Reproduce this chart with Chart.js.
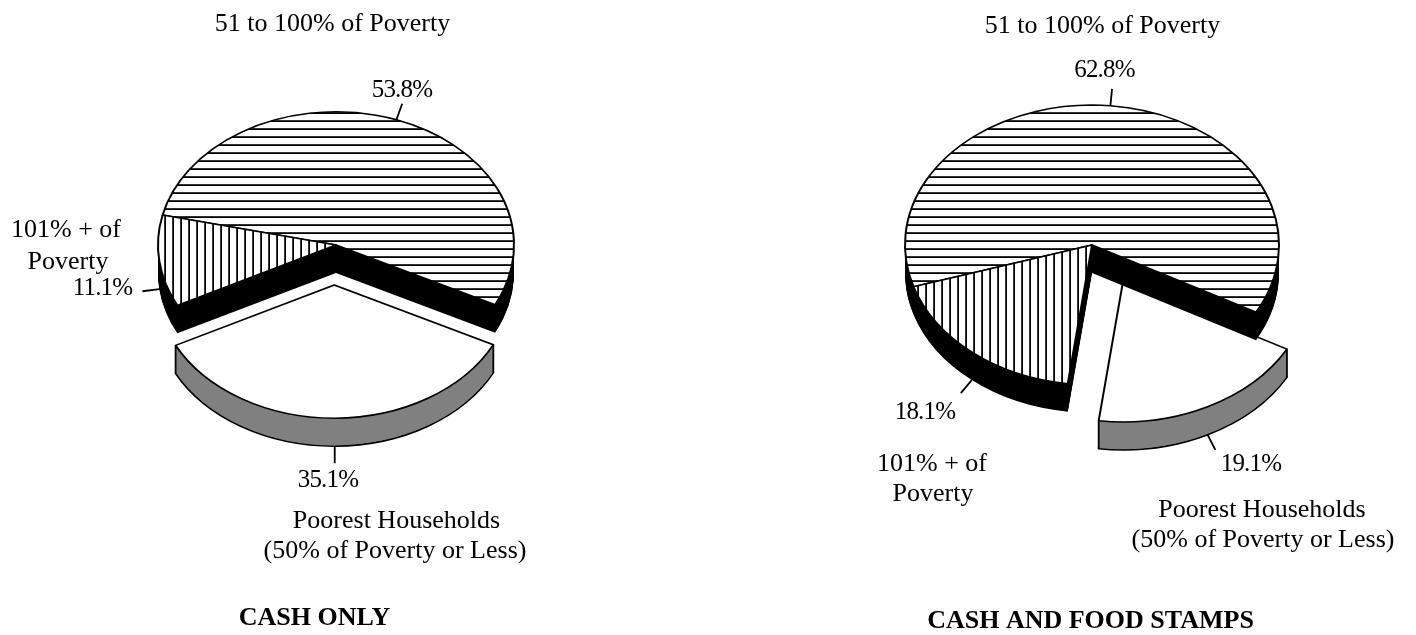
<!DOCTYPE html>
<html>
<head>
<meta charset="utf-8">
<title>Poverty pies</title>
<script src="https://cdn.jsdelivr.net/npm/chart.js@4"></script>
<style>
  html, body { margin: 0; padding: 0; background: #fff; }
  canvas { position: absolute; top: 0; }
  #cashOnly { left: 0; }
  #cashFood { left: 768px; }
</style>
</head>
<body>
<canvas id="cashOnly" width="672" height="635"></canvas>
<canvas id="cashFood" width="648" height="635"></canvas>
<script>
const categories = ["51 to 100% of Poverty", "Poorest Households", "101% + of Poverty"];
const cashOnlyValues = [53.8, 35.1, 11.1];
const cashFoodValues = [62.8, 19.1, 18.1];
const categoryLines = [
  ["51 to 100% of Poverty"],
  ["Poorest Households", "(50% of Poverty or Less)"],
  ["101% + of", "Poverty"],
];
const chartTitles = ["CASH ONLY", "CASH AND FOOD STAMPS"];

const FONT = '"Liberation Serif", "Times New Roman", serif';
const TILT = 0.748;      // ellipse height / width
const DEPTH = 28;        // thickness of the pie on screen
const PIE_Y = 245;
const LEADER = 17;
const POOREST = 1;       // index of the pulled out slice

function hatch(horizontal, linePos, centerY) {
  const tile = document.createElement("canvas");
  tile.width = tile.height = 8;
  const c = tile.getContext("2d");
  c.fillStyle = "#fff";
  c.fillRect(0, 0, 8, 8);
  c.fillStyle = "#000";
  if (horizontal) c.fillRect(0, linePos, 8, 1.8);
  else c.fillRect(linePos, 0, 1.8, 8);
  const p = c.createPattern(tile, "repeat");
  // keep the hatching at 8px on screen even though the pie is squashed
  p.setTransform(new DOMMatrix().translate(0, centerY).scale(1, 1 / TILT).translate(0, -PIE_Y));
  return p;
}

function midAngle(arc) {
  return (arc.startAngle + arc.endAngle) / 2;
}

// how far a slice moves, in unsquashed pie coordinates
function pullOf(arc, index, opts) {
  if (index !== POOREST) return { x: 0, y: 0 };
  const dir = midAngle(arc) + opts.pullTurn * Math.PI / 180;
  return { x: Math.cos(dir) * opts.pull, y: Math.sin(dir) * opts.pull };
}

function placePie(ctx, chart, dy) {
  const cy = (chart.chartArea.top + chart.chartArea.bottom) / 2;
  ctx.translate(0, PIE_Y + dy);
  ctx.scale(1, TILT);
  ctx.translate(0, -cy);
}

function drawArc(ctx, chart, arc, pull, dy, overrides) {
  const saved = arc.options;
  arc.options = { ...saved, ...overrides };
  ctx.save();
  placePie(ctx, chart, dy);
  ctx.translate(pull.x, pull.y);
  arc.draw(ctx);
  ctx.restore();
  arc.options = saved;
}

function drawSide(ctx, chart, arc, pull, color, from) {
  for (let dy = from; dy >= 1; dy--) {
    drawArc(ctx, chart, arc, pull, dy, { backgroundColor: color, borderWidth: 0 });
  }
}

function rimPoint(arc, angle, pull, dy) {
  return {
    x: arc.x + Math.cos(angle) * arc.outerRadius + pull.x,
    y: PIE_Y + dy + TILT * (Math.sin(angle) * arc.outerRadius + pull.y),
  };
}

const pie3d = {
  id: "pie3d",
  beforeDatasetsDraw(chart, args, opts) {
    const ctx = chart.ctx;
    const arcs = chart.getDatasetMeta(0).data;
    const pulled = arcs[POOREST];
    const pull = pullOf(pulled, POOREST, opts);
    const none = { x: 0, y: 0 };

    // pulled out slice goes first, the black cut walls sit on top of it
    drawArc(ctx, chart, pulled, pull, DEPTH, { backgroundColor: "#808080" });
    drawSide(ctx, chart, pulled, pull, "#808080", DEPTH - 1);
    ctx.save();
    ctx.strokeStyle = "#000";
    ctx.lineWidth = 1.8;
    [pulled.startAngle, pulled.endAngle].forEach((a) => {
      const top = rimPoint(pulled, a, pull, 0);
      ctx.beginPath();
      ctx.moveTo(top.x, top.y);
      ctx.lineTo(top.x, top.y + DEPTH);
      ctx.stroke();
    });
    ctx.restore();
    drawArc(ctx, chart, pulled, pull, 0, {});

    arcs.forEach((arc, i) => {
      if (i !== POOREST) drawSide(ctx, chart, arc, none, "#000", DEPTH);
    });
    arcs.forEach((arc, i) => {
      if (i !== POOREST) drawArc(ctx, chart, arc, none, 0, {});
    });
    return false;
  },
  afterDraw(chart, args, opts) {
    const ctx = chart.ctx;
    const values = chart.data.datasets[0].data;
    const arcs = chart.getDatasetMeta(0).data;
    ctx.save();
    ctx.translate(-opts.left, 0);
    ctx.textAlign = "center";
    ctx.textBaseline = "alphabetic";
    ctx.fillStyle = "#000";

    // leader lines
    ctx.strokeStyle = "#000";
    ctx.lineWidth = 1.8;
    arcs.forEach((arc, i) => {
      const mid = midAngle(arc);
      const dy = Math.sin(mid) > 0 ? DEPTH : 0;
      const p = rimPoint(arc, mid, pullOf(arc, i, opts), dy);
      ctx.beginPath();
      ctx.moveTo(opts.left + p.x, p.y);
      ctx.lineTo(opts.left + p.x + Math.cos(mid) * LEADER, p.y + Math.sin(mid) * LEADER);
      ctx.stroke();
    });

    // percentages
    ctx.font = "25px " + FONT;
    ctx.letterSpacing = "-0.8px";
    values.forEach((v, i) => {
      ctx.fillText(v.toFixed(1) + "%", opts.percentAt[i][0], opts.percentAt[i][1]);
    });

    // category names
    ctx.font = "26px " + FONT;
    ctx.letterSpacing = "0px";
    categoryLines.forEach((lines, i) => {
      lines.forEach((line, j) => {
        const at = opts.namesAt[i][j];
        ctx.fillText(line, at[0], at[1]);
      });
    });

    // title below each pie
    ctx.font = "bold 26px " + FONT;
    ctx.fillText(opts.title, opts.titleAt[0], opts.titleAt[1]);
    ctx.restore();
  },
};

function makePie(id, values, settings) {
  const centerY = 635 / 2;
  new Chart(document.getElementById(id), {
    type: "pie",
    plugins: [pie3d],
    data: {
      labels: categories,
      datasets: [{
        data: values,
        backgroundColor: [
          hatch(true, 0.2, centerY),
          "#fff",
          hatch(false, settings.vLine, centerY),
        ],
        borderColor: "#000",
        borderWidth: 2,
        borderJoinStyle: "round",
      }],
    },
    options: {
      responsive: false,
      animation: false,
      radius: settings.radius,
      rotation: settings.rotation,
      plugins: {
        legend: { display: false },
        tooltip: { enabled: false },
        pie3d: settings,
      },
    },
  });
}

makePie("cashOnly", cashOnlyValues, {
  left: 0,
  radius: 178,
  rotation: -77,
  pull: 53.5,
  pullTurn: 2,
  vLine: 4.2,
  title: chartTitles[0],
  titleAt: [314.5, 625],
  percentAt: [[402, 97], [328, 487], [102.5, 295]],
  namesAt: [[[332.5, 31]], [[396.5, 528], [395, 558]], [[66, 237], [68, 269]]],
});

makePie("cashFood", cashFoodValues, {
  left: 768,
  radius: 187,
  rotation: -107.4,
  pull: 58.4,
  pullTurn: -5,
  vLine: 5.2,
  title: chartTitles[1],
  titleAt: [1090.5, 628],
  percentAt: [[1104.5, 77], [1251, 471], [925, 419]],
  namesAt: [[[1102.5, 33]], [[1262, 517], [1263, 547]], [[932, 471], [933, 501]]],
});
</script>
</body>
</html>
